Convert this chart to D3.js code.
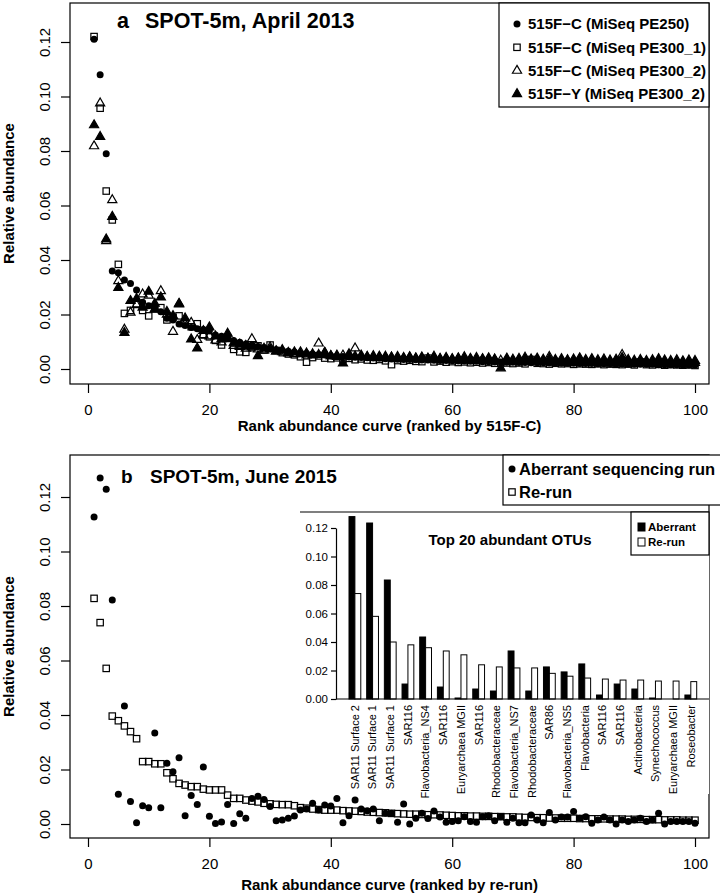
<!DOCTYPE html>
<html>
<head>
<meta charset="utf-8">
<script src="https://cdn.jsdelivr.net/npm/d3@7"></script>
<style>
  body { margin: 0; background: #fff; }
  svg { display: block; font-family: "Liberation Sans", Arial, Helvetica, sans-serif; }
  .tick text { font-size: 15px; fill: #000; }
  .tick line { stroke: #000; stroke-width: 1.2; }
  .axis-title { font-size: 15px; font-weight: bold; }
  .inset .tick text { font-size: 11.5px; }
</style>
</head>
<body>
<div id="chart"></div>
<script>
// ---- data ----
const xTicks = [0, 20, 40, 60, 80, 100];
const yTicks = [0, 0.02, 0.04, 0.06, 0.08, 0.10, 0.12];

// panel a: April 2013, ranks 1..100 (ranked by 515F-C PE250)
const aPE250 = [0.121,0.108,0.079,0.036,0.0353,0.0327,0.0314,0.029,0.0245,0.0232,
  0.0222,0.021,0.0186,0.018,0.0165,0.016,0.0152,0.0148,0.0145,0.014,
  0.0125,0.012,0.0112,0.0105,0.0098,0.0092,0.0088,0.0083,0.0079,0.0075,
  0.0071,0.0068,0.0065,0.0062,0.0059,0.0057,0.0055,0.0053,0.0051,0.0049,
  0.0047,0.0046,0.0044,0.0043,0.0042,0.0041,0.0040,0.0039,0.0038,0.0037,
  0.0036,0.0035,0.0035,0.0034,0.0033,0.0033,0.0032,0.0031,0.0031,0.0030,
  0.0029,0.0029,0.0028,0.0028,0.0027,0.0027,0.0026,0.0026,0.0025,0.0025,
  0.0024,0.0024,0.0023,0.0023,0.0023,0.0022,0.0022,0.0021,0.0021,0.0021,
  0.0020,0.0020,0.0020,0.0019,0.0019,0.0019,0.0018,0.0018,0.0018,0.0017,
  0.0017,0.0017,0.0017,0.0016,0.0016,0.0016,0.0016,0.0015,0.0015,0.0015];
const aPE300_1 = [0.122,0.0957,0.0653,0.0547,0.0384,0.0204,0.0215,0.024,0.0215,0.0195,
  0.022,0.0225,0.018,0.0189,0.0195,0.017,0.0155,0.0166,0.0125,0.0118,
  0.0105,0.0088,0.0115,0.0072,0.0063,0.0061,0.0078,0.0085,0.0070,0.0088,
  0.0068,0.0060,0.0055,0.0052,0.0045,0.0025,0.0042,0.0048,0.0040,0.0038,
  0.0041,0.0036,0.0039,0.0034,0.0037,0.0033,0.0032,0.0035,0.0030,0.0016,
  0.0031,0.0029,0.0032,0.0028,0.0027,0.0040,0.0026,0.0029,0.0025,0.0027,
  0.0024,0.0026,0.0023,0.0025,0.0022,0.0024,0.0021,0.0023,0.0022,0.0020,
  0.0022,0.0019,0.0035,0.0021,0.0020,0.0018,0.0021,0.0019,0.0020,0.0017,
  0.0019,0.0018,0.0017,0.0019,0.0016,0.0018,0.0017,0.0016,0.0018,0.0015,
  0.0026,0.0016,0.0015,0.0017,0.0014,0.0016,0.0015,0.0014,0.0015,0.0013];
const aPE300_2 = [0.0818,0.0975,0.047,0.062,0.0323,0.0145,0.0207,0.0235,0.0274,0.027,
  0.022,0.0286,0.020,0.0137,0.024,0.0165,0.017,0.0107,0.0125,0.012,
  0.0105,0.0098,0.011,0.0085,0.0082,0.0075,0.011,0.0072,0.0068,0.0080,
  0.0065,0.0062,0.0058,0.0055,0.0062,0.0050,0.0055,0.0094,0.0060,0.0048,
  0.0045,0.0050,0.0047,0.0076,0.0045,0.0044,0.0042,0.0046,0.0041,0.0043,
  0.0040,0.0039,0.0042,0.0038,0.0040,0.0037,0.0039,0.0036,0.0038,0.0035,
  0.0037,0.0034,0.0036,0.0033,0.0035,0.0032,0.0034,0.0031,0.0033,0.0030,
  0.0032,0.0030,0.0031,0.0029,0.0030,0.0045,0.0029,0.0028,0.0030,0.0027,
  0.0029,0.0027,0.0028,0.0026,0.0028,0.0026,0.0027,0.0052,0.0027,0.0025,
  0.0026,0.0025,0.0026,0.0024,0.0025,0.0024,0.0025,0.0023,0.0024,0.0023];
const a515FY = [0.0895,0.0852,0.0476,0.0559,0.0298,0.0133,0.025,0.0258,0.0226,0.0284,
  0.024,0.0263,0.021,0.0195,0.0238,0.0186,0.0109,0.0076,0.014,0.0153,
  0.012,0.011,0.013,0.0095,0.0090,0.0085,0.0080,0.0048,0.0075,0.0072,
  0.0065,0.0070,0.0060,0.0062,0.0055,0.0058,0.0050,0.0052,0.0060,0.0048,
  0.0050,0.0021,0.0055,0.0047,0.0050,0.0045,0.0048,0.0043,0.0046,0.0042,
  0.0045,0.0041,0.0044,0.0040,0.0043,0.0039,0.0046,0.0038,0.0041,0.0037,
  0.0040,0.0044,0.0038,0.0041,0.0037,0.0040,0.0036,0.0003,0.0039,0.0035,
  0.0038,0.0042,0.0036,0.0039,0.0035,0.0038,0.0034,0.0037,0.0033,0.0036,
  0.0040,0.0034,0.0037,0.0033,0.0036,0.0032,0.0035,0.0041,0.0034,0.0031,
  0.0034,0.0030,0.0033,0.0037,0.0032,0.0030,0.0033,0.0029,0.0032,0.0030];

// panel b: June 2015, ranks 1..100 (ranked by re-run)
const bAberrant = [0.1127,0.127,0.1228,0.0822,0.0109,0.0433,0.0083,0.0005,0.0067,0.006,
  0.0334,0.006,0.0223,0.0192,0.0243,0.003,0.0105,0.0072,0.0209,0.0028,
  0.0002,0.0007,0.0072,0.0002,0.0038,0.0021,0.0094,0.0102,0.009,0.0064,
  0.0012,0.0015,0.0021,0.0029,0.0051,0.0055,0.0076,0.0051,0.007,0.0066,
  0.0094,0.0005,0.003,0.0088,0.0055,0.0049,0.0055,0.0012,0.0039,0.0039,
  0.0006,0.0073,0.0,0.0021,0.0039,0.002,0.0048,0.0026,0.0006,0.0009,
  0.0012,0.0027,0.0009,0.0006,0.0027,0.003,0.0012,0.0027,0.0006,0.0021,
  0.0005,0.0005,0.0033,0.0015,0.0005,0.0042,0.0015,0.0026,0.0026,0.0046,
  0.0021,0.0027,0.0003,0.0015,0.0026,0.0015,0.0,0.0015,0.0009,0.0015,
  0.0021,0.0009,0.0015,0.0039,0.0,0.0009,0.0009,0.0009,0.0009,0.0003];
const bRerun = [0.0828,0.0739,0.0571,0.0396,0.0379,0.036,0.0339,0.0313,0.0229,0.0229,
  0.0221,0.0221,0.0188,0.0166,0.0149,0.0143,0.0137,0.0137,0.0128,0.0125,
  0.0125,0.0125,0.0106,0.0094,0.0094,0.0088,0.0084,0.0081,0.0076,0.0074,
  0.0072,0.0071,0.0071,0.0067,0.006,0.0058,0.0055,0.0053,0.0051,0.0051,
  0.0051,0.0049,0.0048,0.0047,0.0046,0.0044,0.0043,0.0042,0.0041,0.0039,
  0.0038,0.0037,0.0036,0.0036,0.0035,0.0034,0.0034,0.0033,0.0032,0.0031,
  0.0030,0.0030,0.0029,0.0029,0.0028,0.0028,0.0027,0.0027,0.0026,0.0026,
  0.0025,0.0024,0.0024,0.0023,0.0023,0.0022,0.0022,0.0021,0.0021,0.0021,
  0.0020,0.0020,0.0019,0.0019,0.0019,0.0018,0.0018,0.0018,0.0017,0.0017,
  0.0017,0.0016,0.0016,0.0016,0.0015,0.0015,0.0015,0.0014,0.0014,0.0014];

// inset: top 20 abundant OTUs
const insetTaxa = ['SAR11 Surface 2','SAR11 Surface 1','SAR11 Surface 1','SAR116','Flavobacteria_NS4',
  'SAR116','Euryarchaea MGII','SAR116','Rhodobacteraceae','Flavobacteria_NS7',
  'Rhodobacteraceae','SAR86','Flavobacteria_NS5','Flavobacteria','SAR116',
  'SAR116','Actinobacteria','Synechococcus','Euryarchaea MGII','Roseobacter'];
const insetAberrant = [0.128,0.1235,0.0835,0.0105,0.0435,0.0084,0.0007,0.007,0.0056,0.0337,
  0.0056,0.0225,0.019,0.0246,0.0028,0.0105,0.007,0.0007,0.0,0.0028];
const insetRerun = [0.074,0.058,0.040,0.038,0.036,0.0337,0.031,0.024,0.0225,0.0218,
  0.0218,0.018,0.016,0.0147,0.014,0.0133,0.0133,0.0126,0.0126,0.0122];
const insetTicks = [0, 0.02, 0.04, 0.06, 0.08, 0.10, 0.12];

// ---- drawing ----
const svg = d3.select('#chart').append('svg')
  .attr('width', 720)
  .attr('height', 896);

const SW = 1.2;

// draw one marker of the given kind at (x, y)
function marker(g, kind, x, y) {
  if (kind === 'circle') {
    g.append('circle').attr('cx', x).attr('cy', y).attr('r', 3.5).attr('fill', '#000');
  } else if (kind === 'square') {
    g.append('rect').attr('x', x - 3.2).attr('y', y - 3.2).attr('width', 6.4).attr('height', 6.4)
      .attr('fill', 'none').attr('stroke', '#000').attr('stroke-width', SW);
  } else {
    g.append('path')
      .attr('d', d3.symbol(d3.symbolTriangle, 36)())
      .attr('transform', `translate(${x},${y})`)
      .attr('fill', kind === 'triFilled' ? '#000' : 'none')
      .attr('stroke', '#000').attr('stroke-width', SW);
  }
}

function rankPanel(cfg) {
  const g = svg.append('g');
  const x = d3.scaleLinear().domain([0, 100]).range([88, 695]);
  const y = d3.scaleLinear().domain([0, 0.12]).range([cfg.y0, cfg.y0 - 327]);

  // x axis
  const xAxis = g.append('g').attr('transform', `translate(0,${cfg.box[3]})`)
    .call(d3.axisBottom(x).tickValues(xTicks).tickSize(9).tickFormat(d3.format('d')));
  xAxis.select('.domain').remove();
  xAxis.selectAll('text').attr('y', 31).attr('dy', 0);

  // y axis, R style labels parallel to the axis
  const yAxis = g.append('g').attr('transform', `translate(${cfg.box[0]},0)`)
    .call(d3.axisLeft(y).tickValues(yTicks).tickSize(9).tickFormat(d3.format('.2f')));
  yAxis.select('.domain').remove();
  yAxis.selectAll('text')
    .attr('transform', 'rotate(-90)')
    .attr('x', 0).attr('y', -20).attr('dy', 0)
    .attr('text-anchor', 'middle');

  const pts = g.append('g');
  cfg.series.forEach(s => {
    s.values.forEach((v, i) => marker(pts, s.kind, x(i + 1), y(v)));
  });

  // box
  g.append('rect')
    .attr('x', cfg.box[0]).attr('y', cfg.box[1])
    .attr('width', cfg.box[2] - cfg.box[0]).attr('height', cfg.box[3] - cfg.box[1])
    .attr('fill', 'none').attr('stroke', '#000').attr('stroke-width', SW);

  g.append('text').attr('class', 'axis-title')
    .attr('x', (cfg.box[0] + cfg.box[2]) / 2).attr('y', cfg.box[3] + cfg.xTitleOffset)
    .attr('text-anchor', 'middle').text(cfg.xTitle);
  g.append('text').attr('class', 'axis-title')
    .attr('transform', `translate(14,${(cfg.box[1] + cfg.box[3]) / 2}) rotate(-90)`)
    .attr('text-anchor', 'middle').text('Relative abundance');

  // panel title
  const t = g.append('text').attr('y', cfg.titleY)
    .style('font-size', cfg.titleSize).style('font-weight', 'bold');
  t.append('tspan').attr('x', cfg.letterX).text(cfg.letter);
  t.append('tspan').attr('x', cfg.titleX).text(cfg.title);
  return {g, x, y};
}

// panel a
const pa = rankPanel({
  box: [70, 3, 709, 384], y0: 369,
  series: [
    {kind: 'circle', values: aPE250},
    {kind: 'square', values: aPE300_1},
    {kind: 'triOpen', values: aPE300_2},
    {kind: 'triFilled', values: a515FY}
  ],
  xTitle: 'Rank abundance curve (ranked by 515F-C)', xTitleOffset: 47,
  letter: 'a', letterX: 117, title: 'SPOT-5m, April 2013', titleX: 145, titleY: 28,
  titleSize: '21.5px'
});

// legend a
const legA = pa.g.append('g');
legA.append('rect').attr('x', 499).attr('y', 3).attr('width', 210).attr('height', 104)
  .attr('fill', '#fff').attr('stroke', '#000').attr('stroke-width', SW);
const legAItems = [
  ['circle', '515F\u2212C (MiSeq PE250)'],
  ['square', '515F\u2212C (MiSeq PE300_1)'],
  ['triOpen', '515F\u2212C (MiSeq PE300_2)'],
  ['triFilled', '515F\u2212Y (MiSeq PE300_2)']
];
legAItems.forEach((d, i) => {
  const yy = 24 + i * 23.3;
  marker(legA, d[0], 517, yy);
  legA.append('text').attr('x', 528).attr('y', yy).attr('dy', '.35em')
    .style('font-size', '15px').style('font-weight', 'bold').text(d[1]);
});

// panel b
const pb = rankPanel({
  box: [70, 455, 709, 838], y0: 824,
  series: [
    {kind: 'circle', values: bAberrant},
    {kind: 'square', values: bRerun}
  ],
  xTitle: 'Rank abundance curve (ranked by re-run)', xTitleOffset: 52,
  letter: 'b', letterX: 121, title: 'SPOT-5m, June 2015', titleX: 150, titleY: 483,
  titleSize: '19px'
});

// legend b
const legB = pb.g.append('g');
legB.append('rect').attr('x', 503).attr('y', 455).attr('width', 230).attr('height', 50)
  .attr('fill', '#fff').attr('stroke', '#000').attr('stroke-width', SW);
[['circle', 'Aberrant sequencing run'], ['square', 'Re-run']].forEach((d, i) => {
  const yy = 469 + i * 23;
  marker(legB, d[0], 512, yy);
  legB.append('text').attr('x', 519).attr('y', yy).attr('dy', '.35em')
    .style('font-size', '16.5px').style('font-weight', 'bold').text(d[1]);
});

// inset bar chart
const inset = pb.g.append('g').attr('class', 'inset');
inset.append('rect').attr('x', 300).attr('y', 512).attr('width', 409).attr('height', 282)
  .attr('fill', '#fff');
inset.append('line').attr('x1', 300).attr('x2', 709).attr('y1', 512).attr('y2', 512)
  .attr('stroke', '#000').attr('stroke-width', SW);

const ix = d3.scaleBand().domain(d3.range(insetTaxa.length)).range([349, 696.7])
  .paddingInner(1 / 3).paddingOuter(0);
const iy = d3.scaleLinear().domain([0, 0.12]).range([699, 528]);

const iAxis = inset.append('g').attr('transform', 'translate(336,0)')
  .call(d3.axisLeft(iy).tickValues(insetTicks).tickSize(5).tickSizeOuter(0).tickPadding(3)
    .tickFormat(d3.format('.2f')));
iAxis.select('.domain').attr('stroke-width', SW);

const bw = ix.bandwidth() / 2;
inset.selectAll('.bar-ab').data(insetAberrant).join('rect')
  .attr('class', 'bar-ab')
  .attr('x', (d, i) => ix(i)).attr('width', bw)
  .attr('y', d => iy(d)).attr('height', d => iy(0) - iy(d))
  .attr('fill', '#000').attr('stroke', '#000').attr('stroke-width', 1);
inset.selectAll('.bar-re').data(insetRerun).join('rect')
  .attr('class', 'bar-re')
  .attr('x', (d, i) => ix(i) + bw).attr('width', bw)
  .attr('y', d => iy(d)).attr('height', d => iy(0) - iy(d))
  .attr('fill', '#fff').attr('stroke', '#000').attr('stroke-width', 1);

inset.append('line').attr('x1', 336).attr('x2', 709).attr('y1', iy(0)).attr('y2', iy(0))
  .attr('stroke', '#000').attr('stroke-width', SW);

inset.selectAll('.taxon').data(insetTaxa).join('text')
  .attr('class', 'taxon')
  .attr('transform', (d, i) => `translate(${ix(i) + ix.bandwidth() / 2},705) rotate(-90)`)
  .attr('text-anchor', 'end').attr('dy', '.35em')
  .style('font-size', '11px').text(d => d);

inset.append('text').attr('x', 510).attr('y', 545).attr('text-anchor', 'middle')
  .style('font-size', '15px').style('font-weight', 'bold').text('Top 20 abundant OTUs');

// inset legend
const legI = inset.append('g');
legI.append('rect').attr('x', 631).attr('y', 512).attr('width', 78).attr('height', 43)
  .attr('fill', '#fff').attr('stroke', '#000').attr('stroke-width', SW);
[['#000', 'Aberrant'], ['#fff', 'Re-run']].forEach((d, i) => {
  const yy = 527 + i * 15;
  legI.append('rect').attr('x', 638).attr('y', yy - 4).attr('width', 7).attr('height', 8)
    .attr('fill', d[0]).attr('stroke', '#000').attr('stroke-width', 1);
  legI.append('text').attr('x', 648).attr('y', yy).attr('dy', '.35em')
    .style('font-size', '11.5px').style('font-weight', 'bold').text(d[1]);
});
</script>
</body>
</html>
